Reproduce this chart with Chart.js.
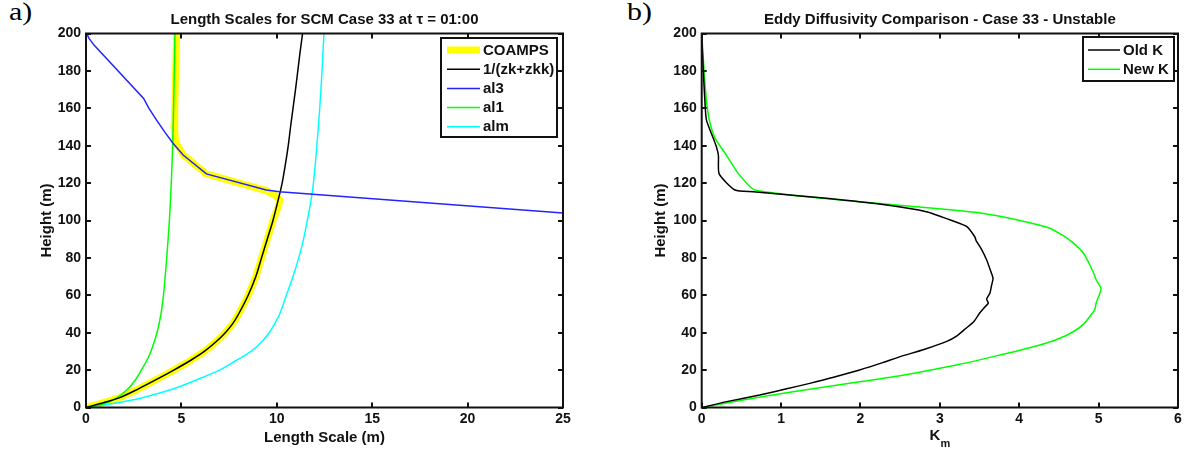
<!DOCTYPE html>
<html>
<head>
<meta charset="utf-8">
<script src="https://cdn.jsdelivr.net/npm/chart.js@4.4.1/dist/chart.umd.min.js"></script>
<style>
  body { margin: 0; background: #fff; width: 1185px; height: 452px; position: relative; overflow: hidden; }
  canvas { position: absolute; top: 0; }
  .tag { position: absolute; font-family: "Liberation Serif", "Times New Roman", serif; font-size: 26px; line-height: 1; color: #000; transform: scaleX(1.15); transform-origin: left top; }
</style>
</head>
<body>
<div class="tag" style="left:9px;top:-1px">a)</div>
<div class="tag" style="left:627px;top:-1px">b)</div>
<canvas id="length-chart" width="583" height="452" style="left:0"></canvas>
<canvas id="eddy-chart" width="598" height="452" style="left:600px"></canvas>
<script>
// --- a) length scales, heights in m / length scale in m ---
const coampsZ = [0, 2, 5, 10, 15, 20, 25, 30, 35, 40, 45, 50, 60, 70, 80, 90, 100, 108, 111, 113.5, 116, 125, 135, 142, 150, 160, 180, 200];
const coampsL = [0, 0.7, 1.7, 2.75, 3.7, 4.6, 5.45, 6.2, 6.8, 7.3, 7.7, 8.0, 8.5, 8.9, 9.2, 9.5, 9.8, 10.1, 10.15, 9.9, 9.45, 6.3, 5.1, 4.7, 4.62, 4.65, 4.7, 4.75];

const zkZ = [0, 2, 5, 10, 15, 20, 25, 30, 35, 40, 45, 50, 60, 70, 80, 90, 100, 110, 120, 130, 140, 150, 160, 170, 180, 190, 200];
const zkL = [0, 0.7, 1.7, 2.75, 3.7, 4.6, 5.45, 6.2, 6.8, 7.3, 7.7, 8.0, 8.5, 8.9, 9.2, 9.5, 9.8, 10.05, 10.28, 10.45, 10.6, 10.72, 10.85, 10.98, 11.1, 11.22, 11.35];

const al3Z = [200, 197.5, 193.8, 165.3, 160, 153.7, 147, 141.3, 135, 124.9, 116.3, 115.4, 104];
const al3L = [0.04, 0.15, 0.42, 3.02, 3.3, 3.7, 4.15, 4.56, 5.09, 6.31, 9.45, 10.14, 25];

const al1Z = [0, 2, 5, 10, 15, 20, 25, 30, 40, 50, 60, 70, 80, 100, 120, 140, 160, 180, 200];
const al1L = [0, 0.95, 1.6, 2.2, 2.6, 2.9, 3.18, 3.4, 3.72, 3.93, 4.06, 4.15, 4.23, 4.37, 4.47, 4.54, 4.59, 4.63, 4.66];

const almZ = [0, 2, 5, 10, 15, 20, 25, 30, 35, 40, 45, 50, 60, 70, 80, 90, 100, 110, 120, 140, 160, 180, 200];
const almL = [0, 1.35, 2.85, 4.6, 5.85, 7.0, 7.85, 8.65, 9.2, 9.6, 9.9, 10.15, 10.5, 10.85, 11.15, 11.4, 11.6, 11.78, 11.92, 12.1, 12.25, 12.37, 12.47];

// --- b) eddy diffusivity, heights in m / K_m ---
const oldKZ = [0, 3, 6.7, 10, 12.9, 16, 20.1, 24, 27.2, 31, 35.2, 38.5, 42.4, 46, 50.4, 53, 55.7, 58, 61.1, 65, 69.1, 73, 78.9, 85, 89, 91.3, 96.7, 100.3, 104.7, 108.3, 111.9, 115.4, 116.3, 124.9, 135, 141.3, 153.7, 164, 180, 200];
const oldK = [0, 0.3, 0.73, 1.07, 1.36, 1.65, 1.99, 2.28, 2.5, 2.8, 3.08, 3.22, 3.33, 3.43, 3.5, 3.55, 3.61, 3.59, 3.63, 3.65, 3.67, 3.64, 3.59, 3.52, 3.46, 3.44, 3.34, 3.13, 2.83, 2.33, 1.57, 0.65, 0.42, 0.22, 0.21, 0.17, 0.06, 0.04, 0.02, 0];

const newKZ = [0, 4, 8.4, 13.8, 17, 21, 24, 27.2, 30, 33.4, 36.5, 40.5, 45, 50.4, 52.1, 56, 59.3, 63.7, 68.2, 72.6, 77, 82.5, 88, 92, 96.4, 101.2, 103.8, 105.8, 110, 116.3, 125.2, 135, 143.9, 153, 164, 180, 200];
const newK = [0, 0.52, 1.15, 1.99, 2.5, 3.0, 3.35, 3.67, 3.95, 4.26, 4.48, 4.68, 4.82, 4.92, 4.95, 4.97, 5.0, 5.03, 4.97, 4.93, 4.88, 4.81, 4.68, 4.55, 4.35, 3.88, 3.55, 3.13, 1.99, 0.67, 0.46, 0.31, 0.17, 0.1, 0.06, 0.03, 0];

const heightTicks = [0, 20, 40, 60, 80, 100, 120, 140, 160, 180, 200];

const pts = (xs, zs) => xs.map((x, i) => ({ x: x, y: zs[i] }));

const FONT = '"Liberation Sans", Arial, sans-serif';
Chart.defaults.font.family = FONT;
Chart.defaults.font.size = 14;
Chart.defaults.font.weight = 'bold';
Chart.defaults.color = '#111';

// axes box with inward ticks on all four sides, plus a boxed legend in the top right
const matlabBox = {
  id: 'matlabBox',
  afterDraw(chart, args, opts) {
    const { ctx, chartArea: a, scales } = chart;
    ctx.save();
    ctx.strokeStyle = '#111';
    ctx.lineWidth = 2;
    ctx.beginPath();
    scales.x.ticks.forEach(t => {
      const px = Math.round(scales.x.getPixelForValue(t.value));
      ctx.moveTo(px, a.bottom); ctx.lineTo(px, a.bottom - 5);
      ctx.moveTo(px, a.top); ctx.lineTo(px, a.top + 5);
    });
    scales.y.ticks.forEach(t => {
      const py = Math.round(scales.y.getPixelForValue(t.value));
      ctx.moveTo(a.left, py); ctx.lineTo(a.left + 5, py);
      ctx.moveTo(a.right, py); ctx.lineTo(a.right - 5, py);
    });
    ctx.stroke();
    ctx.strokeRect(a.left, a.top, a.width, a.height);

    // legend
    const bx = a.right - opts.right - opts.width;
    const by = a.top + opts.top;
    ctx.fillStyle = '#fff';
    ctx.fillRect(bx, by, opts.width, opts.height);
    ctx.strokeRect(bx, by, opts.width, opts.height);
    ctx.font = 'bold 15px ' + FONT;
    ctx.textBaseline = 'middle';
    chart.data.datasets.forEach((ds, i) => {
      const y = by + opts.firstRow + i * opts.rowGap;
      ctx.beginPath();
      ctx.strokeStyle = ds.borderColor;
      ctx.lineWidth = ds.borderWidth;
      ctx.moveTo(bx + opts.lineStart, y);
      ctx.lineTo(bx + opts.lineEnd, y);
      ctx.stroke();
      ctx.fillStyle = '#111';
      ctx.fillText(ds.label, bx + opts.textX, y + 0.5);
    });
    ctx.restore();
  }
};

// K with subscript m under the second plot
const kmTitle = {
  id: 'kmTitle',
  afterDraw(chart) {
    const { ctx, chartArea: a } = chart;
    const cx = (a.left + a.right) / 2;
    ctx.save();
    ctx.fillStyle = '#111';
    ctx.textBaseline = 'alphabetic';
    ctx.font = 'bold 15px ' + FONT;
    const kw = ctx.measureText('K').width;
    ctx.font = 'bold 11px ' + FONT;
    const mw = ctx.measureText('m').width;
    const x0 = cx - (kw + mw) / 2;
    ctx.font = 'bold 15px ' + FONT;
    ctx.fillText('K', x0, 440);
    ctx.font = 'bold 11px ' + FONT;
    ctx.fillText('m', x0 + kw, 447);
    ctx.restore();
  }
};

function line(label, xs, zs, color, width, order, tension) {
  return {
    label: label,
    data: pts(xs, zs),
    showLine: true,
    borderColor: color,
    backgroundColor: color,
    borderWidth: width,
    pointRadius: 0,
    tension: tension,
    clip: 0,
    order: order
  };
}

function makeOptions(cfg) {
  return {
    responsive: false,
    animation: false,
    devicePixelRatio: 1,
    layout: { padding: { left: 0, right: 20, top: 0, bottom: 0 } },
    plugins: {
      legend: { display: false },
      tooltip: { enabled: false },
      title: {
        display: true,
        text: cfg.title,
        fullSize: false,
        font: { size: 15, weight: 'bold' },
        padding: { top: 11, bottom: 4.5 }
      },
      matlabBox: cfg.legend
    },
    scales: {
      x: {
        type: 'linear',
        min: 0,
        max: cfg.xMax,
        grid: { display: false, drawTicks: false },
        border: { display: false },
        ticks: { stepSize: cfg.xStep, padding: 3, maxRotation: 0 },
        title: { display: !!cfg.xTitle, text: cfg.xTitle, font: { size: 15 }, padding: { top: 0, bottom: 5.5 } },
        afterFit: s => { s.height = 44.5; }
      },
      y: {
        type: 'linear',
        min: 0,
        max: 200,
        grid: { display: false, drawTicks: false },
        border: { display: false },
        afterBuildTicks: s => { s.ticks = heightTicks.map(v => ({ value: v })); },
        ticks: { padding: 5 },
        title: { display: true, text: 'Height (m)', font: { size: 15 }, padding: { top: cfg.yTitlePad, bottom: 0 } },
        afterFit: s => { s.width = cfg.yWidth; }
      }
    }
  };
}

new Chart(document.getElementById('length-chart').getContext('2d'), {
  type: 'scatter',
  data: {
    datasets: [
      line('COAMPS', coampsL, coampsZ, '#ffff00', 7, 9, 0),
      line('1/(zk+zkk)', zkL, zkZ, '#000000', 1.5, 2, 0.3),
      line('al3', al3L, al3Z, '#2424ff', 1.5, 1, 0),
      line('al1', al1L, al1Z, '#00ff00', 1.5, 3, 0.3),
      line('alm', almL, almZ, '#00ffff', 1.5, 4, 0.3)
    ]
  },
  options: makeOptions({
    title: 'Length Scales for SCM Case 33 at \u03c4 = 01:00',
    xMax: 25, xStep: 5, xTitle: 'Length Scale (m)',
    yWidth: 86, yTitlePad: 38,
    legend: { right: 6, top: 4.5, width: 116, height: 99, firstRow: 12, rowGap: 19.2, lineStart: 6, lineEnd: 39, textX: 42 }
  }),
  plugins: [matlabBox]
});

new Chart(document.getElementById('eddy-chart').getContext('2d'), {
  type: 'scatter',
  data: {
    datasets: [
      line('Old K', oldK, oldKZ, '#000000', 1.5, 1, 0.2),
      line('New K', newK, newKZ, '#00ff00', 1.5, 2, 0.2)
    ]
  },
  options: makeOptions({
    title: 'Eddy Diffusivity Comparison - Case 33 - Unstable',
    xMax: 6, xStep: 1, xTitle: '',
    yWidth: 101.7, yTitlePad: 52,
    legend: { right: 4, top: 3.5, width: 91, height: 44, firstRow: 13, rowGap: 19.3, lineStart: 5, lineEnd: 37, textX: 40 }
  }),
  plugins: [matlabBox, kmTitle]
});
</script>
</body>
</html>
